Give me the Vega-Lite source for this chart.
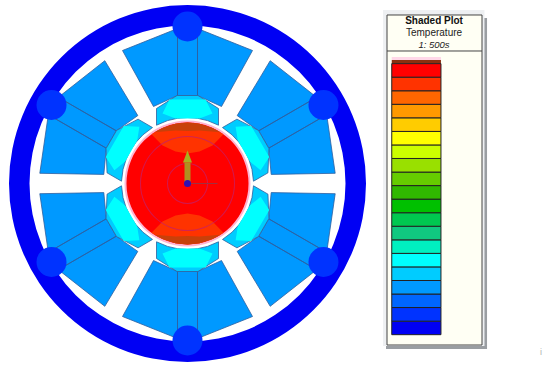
{"$schema":"https://vega.github.io/schema/vega-lite/v6.json","padding":0,"spacing":0,"background":"white","config":{"view":{"stroke":null},"font":"Liberation Sans","axis":{"disable":true},"range":{"ramp":["#0000f4","#0033ff","#0066ff","#0099ff","#00ccff","#00ffff","#00f0c0","#10c880","#00c850","#00c000","#30b800","#66cc00","#99e000","#ccff00","#ffff00","#ffcc00","#ff9900","#ff6600","#ff3300","#ff0000"]}},
"datasets":{
"stator":[{"type":"Feature","properties":{"part":"stator blocks","temperature":35},"geometry":{"type":"MultiPolygon","coordinates":[
[[[10,88],[10,155],[65,133],[34,77],[10,88]]],[[[-10,88],[-10,155],[-65,133],[-34,77],[-10,88]]],[[[-10,88],[-10,155],[10,155],[10,88],[-10,88]]],
[[[10,-88],[10,-155],[65,-133],[34,-77],[10,-88]]],[[[-10,-88],[-10,-155],[-65,-133],[-34,-77],[-10,-88]]],[[[-10,-88],[-10,-155],[10,-155],[10,-88],[-10,-88]]],
[[[81.2,35.3],[139.2,68.8],[147.7,10.2],[83.7,9.1],[81.2,35.3]]],[[[71.2,52.7],[129.2,86.2],[82.7,122.8],[49.7,67.9],[71.2,52.7]]],[[[71.2,52.7],[129.2,86.2],[139.2,68.8],[81.2,35.3],[71.2,52.7]]],
[[[-81.2,35.3],[-139.2,68.8],[-147.7,10.2],[-83.7,9.1],[-81.2,35.3]]],[[[-71.2,52.7],[-129.2,86.2],[-82.7,122.8],[-49.7,67.9],[-71.2,52.7]]],[[[-71.2,52.7],[-129.2,86.2],[-139.2,68.8],[-81.2,35.3],[-71.2,52.7]]],
[[[81.2,-35.3],[139.2,-68.8],[147.7,-10.2],[83.7,-9.1],[81.2,-35.3]]],[[[71.2,-52.7],[129.2,-86.2],[82.7,-122.8],[49.7,-67.9],[71.2,-52.7]]],[[[71.2,-52.7],[129.2,-86.2],[139.2,-68.8],[81.2,-35.3],[71.2,-52.7]]],
[[[-81.2,-35.3],[-139.2,-68.8],[-147.7,-10.2],[-83.7,-9.1],[-81.2,-35.3]]],[[[-71.2,-52.7],[-129.2,-86.2],[-82.7,-122.8],[-49.7,-67.9],[-71.2,-52.7]]],[[[-71.2,-52.7],[-129.2,-86.2],[-139.2,-68.8],[-81.2,-35.3],[-71.2,-52.7]]]
]}}],
"teeth":[{"type":"Feature","properties":{"part":"teeth","temperature":37},"geometry":{"type":"MultiPolygon","coordinates":[
[[[-31,75],[-10.5,88],[10.5,88],[31,75],[31,58.3],[20,62.9],[10,65.2],[0,66],[-10,65.2],[-20,62.9],[-31,58.3],[-31,75]]],
[[[-31,-75],[-10.5,-88],[10.5,-88],[31,-75],[31,-58.3],[20,-62.9],[10,-65.2],[0,-66],[-10,-65.2],[-20,-62.9],[-31,-58.3],[-31,-75]]],
[[[49.45,64.35],[70.95,53.09],[81.45,34.91],[80.45,10.65],[65.99,2.3],[64.47,14.13],[61.46,23.94],[57.16,33],[51.46,41.26],[44.47,48.77],[34.99,55.95],[49.45,64.35]]],
[[[-49.45,64.35],[-70.95,53.09],[-81.45,34.91],[-80.45,10.65],[-65.99,2.3],[-64.47,14.13],[-61.46,23.94],[-57.16,33],[-51.46,41.26],[-44.47,48.77],[-34.99,55.95],[-49.45,64.35]]],
[[[49.45,-64.35],[70.95,-53.09],[81.45,-34.91],[80.45,-10.65],[65.99,-2.3],[64.47,-14.13],[61.46,-23.94],[57.16,-33],[51.46,-41.26],[44.47,-48.77],[34.99,-55.95],[49.45,-64.35]]],
[[[-49.45,-64.35],[-70.95,-53.09],[-81.45,-34.91],[-80.45,-10.65],[-65.99,-2.3],[-64.47,-14.13],[-61.46,-23.94],[-57.16,-33],[-51.46,-41.26],[-44.47,-48.77],[-34.99,-55.95],[-49.45,-64.35]]]
]}}],
"hot":[{"type":"Feature","properties":{"part":"tooth cores","temperature":38.6},"geometry":{"type":"MultiPolygon","coordinates":[
[[[-18,84],[18,84],[25,70],[12,65],[-12,65],[-25,70],[-18,84]]],
[[[-18,-84],[18,-84],[25,-70],[12,-65],[-12,-65],[-25,-70],[-18,-84]]],
[[[63.74,57.59],[81.74,26.41],[73.12,13.35],[62.29,22.11],[50.29,42.89],[48.12,56.65],[63.74,57.59]]],
[[[-63.74,57.59],[-81.74,26.41],[-73.12,13.35],[-62.29,22.11],[-50.29,42.89],[-48.12,56.65],[-63.74,57.59]]],
[[[63.74,-57.59],[81.74,-26.41],[73.12,-13.35],[62.29,-22.11],[50.29,-42.89],[48.12,-56.65],[63.74,-57.59]]],
[[[-63.74,-57.59],[-81.74,-26.41],[-73.12,-13.35],[-62.29,-22.11],[-50.29,-42.89],[-48.12,-56.65],[-63.74,-57.59]]]
]}}],
"caps":[{"type":"Feature","properties":{"part":"rotor caps","temperature":59},"geometry":{"type":"MultiPolygon","coordinates":[
[[[-36,49.2],[-25,55.6],[-12,59.8],[0,61],[12,59.8],[25,55.6],[36,49.2],[25,38],[12,32],[0,30],[-12,32],[-25,38],[-36,49.2]]],
[[[-36,-49.2],[-25,-55.6],[-12,-59.8],[0,-61],[12,-59.8],[25,-55.6],[36,-49.2],[25,-38],[12,-32],[0,-30],[-12,-32],[-25,-38],[-36,-49.2]]]
]}}],
"rims":[{"type":"Feature","properties":{"part":"rotor rims"},"geometry":{"type":"MultiPolygon","coordinates":[
[[[-33,51.3],[-25,55.6],[-12,59.8],[0,61],[12,59.8],[25,55.6],[33,51.3],[12,53],[0,52.5],[-12,53],[-33,51.3]]],
[[[-33,-51.3],[-25,-55.6],[-12,-59.8],[0,-61],[12,-59.8],[25,-55.6],[33,-51.3],[12,-53],[0,-52.5],[-12,-53],[-33,-51.3]]]
]}}],
"shaft":[{"type":"Feature","properties":{"part":"axis shaft"},"geometry":{"type":"Polygon","coordinates":[[[-3,0],[3,0],[3,21],[-3,21],[-3,0]]]}}],
"head":[{"type":"Feature","properties":{"part":"axis head"},"geometry":{"type":"Polygon","coordinates":[[[-4.5,21],[4.5,21],[0,33],[-4.5,21]]]}}],
"xaxis":[{"type":"Feature","properties":{"part":"axis x"},"geometry":{"type":"Polygon","coordinates":[[[0,-0.5],[30,-0.5],[30,0.5],[0,0.5],[0,-0.5]]]}}],
"blobs":[{"x":135.97,"y":78.5,"temperature":32.3},{"x":0,"y":157,"temperature":32.3},{"x":-135.97,"y":78.5,"temperature":32.3},{"x":-135.97,"y":-78.5,"temperature":32.3},{"x":0,"y":-157,"temperature":32.3},{"x":135.97,"y":-78.5,"temperature":32.3}],
"bands":[{"low":29.95,"high":31.52,"temperature":30.7},{"low":31.52,"high":33.1,"temperature":32.3},{"low":33.1,"high":34.67,"temperature":33.9},{"low":34.67,"high":36.24,"temperature":35.5},{"low":36.24,"high":37.82,"temperature":37},{"low":37.82,"high":39.39,"temperature":38.6},{"low":39.39,"high":40.96,"temperature":40.2},{"low":40.96,"high":42.54,"temperature":41.7},{"low":42.54,"high":44.11,"temperature":43.3},{"low":44.11,"high":45.69,"temperature":44.9},{"low":45.69,"high":47.26,"temperature":46.5},{"low":47.26,"high":48.83,"temperature":48},{"low":48.83,"high":50.41,"temperature":49.6},{"low":50.41,"high":51.98,"temperature":51.2},{"low":51.98,"high":53.55,"temperature":52.8},{"low":53.55,"high":55.13,"temperature":54.3},{"low":55.13,"high":56.7,"temperature":55.9},{"low":56.7,"high":58.27,"temperature":57.5},{"low":58.27,"high":59.85,"temperature":59},{"low":59.85,"high":61.42,"temperature":60.6}]
},
"hconcat":[
{"width":383,"height":367,
"projection":{"type":"identity","reflectY":true,"scale":1,"translate":[187.5,183.5]},
"layer":[
{"data":{"values":[{"temperature":30.7}]},"mark":{"type":"arc","outerRadius":178.5,"innerRadius":158},"encoding":{"x":{"datum":0,"type":"quantitative","scale":{"domain":[-187.5,195.5],"nice":false,"zero":false}},"y":{"datum":0,"type":"quantitative","scale":{"domain":[-183.5,183.5],"nice":false,"zero":false}},"theta":{"value":0},"theta2":{"value":6.2832},"color":{"field":"temperature","type":"quantitative","legend":null,"scale":{"type":"quantize","domain":[29.95,61.42]}}}},
{"data":{"name":"stator"},"mark":{"type":"geoshape","stroke":"#2f5f9f","strokeWidth":0.8},"encoding":{"color":{"field":"properties.temperature","type":"quantitative","legend":null,"scale":{"type":"quantize","domain":[29.95,61.42]}}}},
{"data":{"name":"blobs"},"mark":{"type":"point","filled":true,"opacity":1,"size":900},"encoding":{"x":{"field":"x","type":"quantitative"},"y":{"field":"y","type":"quantitative"},"color":{"field":"temperature","type":"quantitative","legend":null,"scale":{"type":"quantize","domain":[29.95,61.42]}}}},
{"data":{"name":"teeth"},"mark":{"type":"geoshape","stroke":"#2f5f9f","strokeWidth":0.8},"encoding":{"color":{"field":"properties.temperature","type":"quantitative","legend":null,"scale":{"type":"quantize","domain":[29.95,61.42]}}}},
{"data":{"name":"hot"},"mark":{"type":"geoshape"},"encoding":{"color":{"field":"properties.temperature","type":"quantitative","legend":null,"scale":{"type":"quantize","domain":[29.95,61.42]}}}},
{"data":{"values":[{"part":"rotor edge"}]},"mark":{"type":"arc","outerRadius":63,"innerRadius":58,"fill":"#ffb4d2"},"encoding":{"x":{"datum":0,"type":"quantitative"},"y":{"datum":0,"type":"quantitative"},"theta":{"value":0},"theta2":{"value":6.2832}}},
{"data":{"values":[{"temperature":60.6}]},"mark":{"type":"arc","outerRadius":61,"innerRadius":0},"encoding":{"x":{"datum":0,"type":"quantitative"},"y":{"datum":0,"type":"quantitative"},"theta":{"value":0},"theta2":{"value":6.2832},"color":{"field":"temperature","type":"quantitative","legend":null,"scale":{"type":"quantize","domain":[29.95,61.42]}}}},
{"data":{"name":"caps"},"mark":{"type":"geoshape"},"encoding":{"color":{"field":"properties.temperature","type":"quantitative","legend":null,"scale":{"type":"quantize","domain":[29.95,61.42]}}}},
{"data":{"name":"rims"},"mark":{"type":"geoshape","fill":"#c8400a"},"encoding":{}},
{"data":{"values":[{"part":"contour"}]},"mark":{"type":"arc","outerRadius":47.5,"innerRadius":46.5,"fill":"#c4206a","opacity":0.75},"encoding":{"x":{"datum":0,"type":"quantitative"},"y":{"datum":0,"type":"quantitative"},"theta":{"value":0},"theta2":{"value":6.2832}}},
{"data":{"values":[{"part":"contour"}]},"mark":{"type":"arc","outerRadius":20.5,"innerRadius":19.5,"fill":"#c4206a","opacity":0.75},"encoding":{"x":{"datum":0,"type":"quantitative"},"y":{"datum":0,"type":"quantitative"},"theta":{"value":0},"theta2":{"value":6.2832}}},
{"data":{"name":"xaxis"},"mark":{"type":"geoshape","fill":"#a03040"},"encoding":{}},
{"data":{"name":"shaft"},"mark":{"type":"geoshape","fill":"#b09020"},"encoding":{}},
{"data":{"name":"head"},"mark":{"type":"geoshape","fill":"#a8b020"},"encoding":{}},
{"data":{"values":[{"part":"origin"}]},"mark":{"type":"point","filled":true,"opacity":1,"size":49,"color":"#3010b0"},"encoding":{"x":{"datum":0,"type":"quantitative"},"y":{"datum":0,"type":"quantitative"}}}
]},
{"width":167,"height":367,
"layer":[
{"data":{"values":[{"part":"shadow"}]},"mark":{"type":"rect","fill":"#9a9ea2"},"encoding":{"x":{"datum":-0.0105,"type":"quantitative","scale":{"domain":[0,1],"range":[4,99],"nice":false,"zero":false}},"x2":{"datum":1.053},"y":{"datum":66.72,"type":"quantitative","scale":{"domain":[30.0284,61.8436],"range":[334,60],"nice":false,"zero":false}},"y2":{"datum":28.29}}},
{"data":{"values":[{"part":"frame"}]},"mark":{"type":"rect","fill":"#eef0f2"},"encoding":{"x":{"datum":-0.042,"type":"quantitative"},"x2":{"datum":1.026},"y":{"datum":67.65,"type":"quantitative"},"y2":{"datum":28.63}}},
{"data":{"values":[{"part":"box"}]},"mark":{"type":"rect","fill":"#fffff4","stroke":"#444444","strokeWidth":1},"encoding":{"x":{"datum":0,"type":"quantitative"},"x2":{"datum":1},"y":{"datum":67.07,"type":"quantitative"},"y2":{"datum":28.75}}},
{"data":{"values":[{"part":"divider"}]},"mark":{"type":"rule","stroke":"#444444","strokeWidth":1},"encoding":{"x":{"datum":0,"type":"quantitative"},"x2":{"datum":1},"y":{"datum":62.89,"type":"quantitative"}}},
{"data":{"values":[{"part":"halo"}]},"mark":{"type":"rect","fill":"#ffd8e8"},"encoding":{"x":{"datum":0.05,"type":"quantitative"},"x2":{"datum":0.568},"y":{"datum":62.19,"type":"quantitative"},"y2":{"datum":61.84}}},
{"data":{"values":[{"part":"top stripe"}]},"mark":{"type":"rect","fill":"#8a3010"},"encoding":{"x":{"datum":0.05,"type":"quantitative"},"x2":{"datum":0.568},"y":{"datum":61.84,"type":"quantitative"},"y2":{"datum":61.42}}},
{"data":{"name":"bands"},"mark":{"type":"rect","stroke":"#222222","strokeWidth":1},"encoding":{"x":{"datum":0.05,"type":"quantitative"},"x2":{"datum":0.568},"y":{"field":"low","type":"quantitative","axis":{"disable":false,"orient":"right","offset":-109,"values":[30.0284,32.1494,34.2704,36.3915,38.5125,40.6335,42.7545,44.8755,46.9965,49.1175,51.2385,53.3595,55.4806,57.6016,59.7226,61.8436],"format":".4f","title":null,"domain":false,"grid":false,"ticks":true,"tickSize":2,"tickColor":"#222222","labelPadding":6,"labelFontSize":8.5,"labelColor":"#222222","labelFont":"Liberation Sans"}},"y2":{"field":"high"},"color":{"field":"temperature","type":"quantitative","legend":null,"scale":{"type":"quantize","domain":[29.95,61.42]}}}},
{"data":{"values":[{"label":"Shaded Plot"}]},"mark":{"type":"text","fontWeight":"bold","fontSize":10,"color":"#111111"},"encoding":{"x":{"datum":0.495,"type":"quantitative"},"y":{"datum":66.37,"type":"quantitative"},"text":{"field":"label"}}},
{"data":{"values":[{"label":"Temperature"}]},"mark":{"type":"text","fontSize":10,"color":"#222222"},"encoding":{"x":{"datum":0.495,"type":"quantitative"},"y":{"datum":64.98,"type":"quantitative"},"text":{"field":"label"}}},
{"data":{"values":[{"label":"1: 500s"}]},"mark":{"type":"text","fontStyle":"italic","fontSize":9.5,"color":"#222222"},"encoding":{"x":{"datum":0.495,"type":"quantitative"},"y":{"datum":63.59,"type":"quantitative"},"text":{"field":"label"}}},
{"data":{"values":[{"label":"i"}]},"mark":{"type":"text","fontSize":9,"color":"#b0b0b0"},"encoding":{"x":{"datum":1.62,"type":"quantitative"},"y":{"datum":27.94,"type":"quantitative"},"text":{"field":"label"}}}
]}
]}
